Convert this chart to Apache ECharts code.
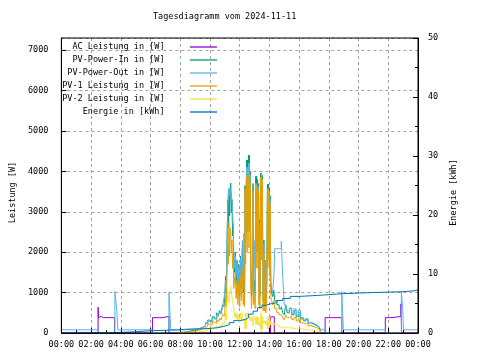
<!DOCTYPE html>
<html>
<head>
<meta charset="utf-8">
<script src="https://cdn.jsdelivr.net/npm/echarts@6/dist/echarts.min.js"></script>
<style>html,body{margin:0;padding:0;background:#fff}#c{width:480px;height:360px}</style>
</head>
<body>
<div id="c"></div>
<script>
// ---- tick labels ----
const tickLabels = ['00:00','02:00','04:00','06:00','08:00','10:00','12:00','14:00','16:00','18:00','20:00','22:00','00:00'];
const seriesNames = ['AC Leistung in [W]','PV-Power-In in [W]','PV-Power-Out in [W]','PV-1 Leistung in [W]','PV-2 Leistung in [W]','Energie in [kWh]'];

// ---- AC Leistung (hours, W) ----
const acTimes  = [0, 2.47, 2.50, 2.62, 2.68, 2.82, 2.88, 3.58, 6.13, 6.60, 6.68, 6.78, 7.24, 14.07, 14.33, 17.75, 18.30, 18.40, 18.87, 21.80, 22.25, 22.85, 22.90, 24];
const acValues = [0, 640, 380, 410, 380, 410, 380, 0, 380, 410, 380, 410, 0, 400, 0, 380, 410, 380, 0, 380, 410, 720, 0, 0];

// ---- daytime time base (hours) ----
const dayTimes = [7.90,8.10,8.40,8.70,9.00,9.25,9.50,9.70,9.85,10.00,
  10.15,10.30,10.45,10.55,10.65,10.75,10.85,10.95,11.00,11.05,
  11.10,11.15,11.20,11.24,11.28,11.32,11.36,11.40,11.44,11.48,
  11.52,11.56,11.60,11.65,11.70,11.76,11.82,11.88,11.94,12.00,
  12.06,12.12,12.18,12.24,12.28,12.33,12.36,12.40,12.44,12.47,
  12.50,12.53,12.56,12.59,12.62,12.65,12.68,12.71,12.75,12.80,
  12.86,12.90,12.93,12.98,13.05,13.08,13.11,13.14,13.17,13.20,
  13.23,13.26,13.29,13.33,13.36,13.40,13.43,13.46,13.49,13.52,
  13.55,13.58,13.63,13.66,13.72,13.76,13.82,13.87,13.90,13.93,
  13.96,13.99,14.02,14.05,14.09,14.15,14.22,14.30,14.36,14.50,
  14.65,14.80,14.90,15.00,15.10,15.20,15.35,15.50,15.65,15.80,
  15.95,16.10,16.30,16.45,16.60,16.80,17.00,17.20,17.35,17.47];
const pvIn = [15,30,50,70,100,140,180,250,320,280,
  400,350,500,420,560,480,700,650,900,1400,
  1000,2300,3300,2600,3500,2900,3600,3710,3000,3300,
  2400,2700,1700,1500,2000,1200,1800,1000,1700,900,
  1900,1100,2100,1000,1300,900,3650,2200,3650,4280,
  2500,4280,3000,4400,2600,4400,3000,4000,1500,900,
  1500,3700,1000,1300,900,3880,2000,3880,2500,3800,
  2000,3700,1000,2800,900,3960,2500,3960,2200,3900,
  2000,800,2300,800,1800,700,1200,3680,2000,3680,
  2200,3600,1800,3400,1200,1000,900,1050,800,700,
  600,650,500,450,700,500,600,450,550,400,
  500,350,300,350,250,220,180,140,100,0];
const pvOutDay = [80,85,95,100,110,130,170,230,300,270,
  380,340,470,410,540,470,650,900,850,1300,
  1100,2200,3160,3570,3400,3570,3500,3550,3570,3300,
  3000,2700,2000,1600,1900,1400,1750,1100,1650,1000,
  1850,1200,2290,1100,2465,1000,3500,2300,3500,4100,
  2600,4100,3000,4200,2700,4200,3000,3900,1600,1000,
  1600,3500,1100,2290,1000,3700,2100,3700,2600,3650,
  2100,3600,1100,2700,1000,3850,2600,3850,2300,3800,
  2100,900,2200,900,1800,800,1300,3550,2100,3550,
  2300,3500,1900,3300,1300,1100,1000,1400,2085,2085,
  2085,2270,1380,700,650,550,620,480,600,420,
  560,380,320,330,260,240,200,160,120,80];
const pv1 = [10,20,35,50,70,100,130,170,220,190,
  270,240,330,280,370,320,460,420,560,900,
  650,1500,2200,1700,2745,1900,2600,2500,2000,2300,
  1600,1900,1100,1100,1500,850,1300,700,1250,650,
  1400,800,1600,700,950,650,3550,1700,3550,3860,
  2000,3860,2500,3940,2100,3940,2500,3700,1100,600,
  1100,3520,700,900,600,3655,1600,3655,2100,3600,
  1600,3500,700,2500,600,3860,2000,3940,1800,3800,
  1600,550,2000,550,1500,500,900,3570,1600,3570,
  1800,3450,1400,3200,900,800,700,800,600,500,
  450,480,380,330,450,380,420,330,380,300,
  350,250,220,250,180,160,130,100,70,0];
const pv2 = [5,10,15,20,30,40,50,80,100,90,
  130,110,170,140,190,160,240,230,300,450,
  330,750,1050,850,750,950,950,1150,1000,1000,
  800,800,600,400,500,350,500,300,450,250,
  500,300,500,300,350,250,100,500,100,420,
  500,420,500,460,500,460,500,300,400,300,
  400,180,300,400,300,225,400,225,400,200,
  400,200,300,300,300,100,500,20,400,100,
  400,250,300,250,300,200,300,110,400,110,
  400,150,400,200,300,250,200,250,200,200,
  150,170,120,120,150,120,130,110,120,100,
  110,90,80,90,70,60,50,40,30,0];

// ---- PV-Power-Out at night (hours, W) ----
const outMorningTimes  = [0, 2.47, 3.60, 3.73, 3.80, 6.10, 7.24, 7.36];
const outMorningValues = [80, 0, 1030, 560, 80, 0, 1010, 80];
const outEveningTimes  = [17.73, 18.87, 18.98, 21.80, 22.88, 22.98, 23.02, 24];
const outEveningValues = [0, 1030, 80, 0, 1010, 560, 80, 80];

// ---- Energie (hours, kWh) ----
const energyTimes  = [0, 0.67, 3.60, 4.90, 5.90, 7.90, 8.30, 9.50, 10.00, 10.50, 10.90, 11.30, 11.60, 12.00, 12.40, 12.60, 12.90, 13.20, 13.50, 13.80, 14.10, 14.50, 14.90, 15.40, 16.00, 17.25, 18.90, 20.60, 23.00, 23.80, 24];
const energyValues = [0, 0.08, 0.20, 0.37, 0.54, 0.62, 0.70, 0.78, 0.90, 1.10, 1.40, 1.75, 2.10, 2.30, 2.60, 3.20, 3.70, 4.30, 4.70, 4.95, 5.15, 5.50, 5.85, 6.20, 6.37, 6.66, 6.83, 7.00, 7.17, 7.33, 7.33];

function pairs(ts, vs) { return ts.map((t, i) => [t, vs[i]]); }

const FONT = 'DejaVu Sans Mono';
const fs = 8.5;
const colors = ['#9400d3', '#009e73', '#56b4e9', '#e69f00', '#f0e442', '#0072b2'];

const outData = pairs(outMorningTimes, outMorningValues)
  .concat(pairs(dayTimes, pvOutDay))
  .concat(pairs(outEveningTimes, outEveningValues));

const chart = echarts.init(document.getElementById('c'), null, {renderer: 'canvas'});
function mk(i, data, axis) {
  return {
    name: seriesNames[i], type: 'line', step: 'end', yAxisIndex: axis || 0,
    data: data, symbol: 'none', animation: false,
    lineStyle: {width: 1, color: colors[i]}, itemStyle: {color: colors[i]}
  };
}
chart.setOption({
  animation: false,
  backgroundColor: '#fff',
  title: {
    text: 'Tagesdiagramm vom 2024-11-11', left: 153, top: 12, padding: 0,
    textStyle: {fontFamily: FONT, fontSize: fs, fontWeight: 'normal', color: '#000'}
  },
  grid: {left: 58, top: 38, width: 360, height: 295, show: true, z: 10,
         borderColor: '#000', borderWidth: 1, backgroundColor: 'transparent'},
  legend: {
    orient: 'vertical', align: 'right', right: 263, top: 42.5, padding: 0,
    itemWidth: 27, itemHeight: 9, itemGap: 4,
    icon: 'path://M0,0H27V1.3H0Z',
    data: seriesNames,
    formatter: function (n) { return n + '    '; },
    textStyle: {fontFamily: FONT, fontSize: fs, color: '#000'}
  },
  xAxis: {
    type: 'value', min: 0, max: 24, interval: 2,
    axisLine: {show: true, lineStyle: {color: '#000'}},
    axisTick: {inside: true, length: 5, lineStyle: {color: '#000'}},
    minorTick: {show: true, splitNumber: 2, length: 3, lineStyle: {color: '#000'}},
    axisLabel: {margin: 7, fontFamily: FONT, fontSize: fs, color: '#000',
                formatter: function (v) { return tickLabels[Math.round(v / 2)]; }},
    splitLine: {show: true, lineStyle: {color: '#a0a0a0', type: [3, 3], width: 1}}
  },
  yAxis: [{
    type: 'value', min: 0, max: 7300, interval: 1000, position: 'left',
    name: 'Leistung [W]', nameLocation: 'middle', nameGap: 44,
    nameTextStyle: {fontFamily: FONT, fontSize: fs, color: '#000', padding: [0, 14, 0, 0]},
    axisLine: {show: true, lineStyle: {color: '#000'}},
    axisTick: {inside: true, length: 5, lineStyle: {color: '#000'}},
    axisLabel: {margin: 13, fontFamily: FONT, fontSize: fs, color: '#000', showMaxLabel: false,
                formatter: function (v) { return String(v); }},
    splitLine: {show: true, lineStyle: {color: '#a0a0a0', type: [3, 3], width: 1}}
  }, {
    type: 'value', min: 0, max: 50, interval: 10, position: 'right',
    name: 'Energie [kWh]', nameLocation: 'middle', nameGap: 30,
    nameTextStyle: {fontFamily: FONT, fontSize: fs, color: '#000', padding: [0, 14, 0, 0]},
    axisLine: {show: true, lineStyle: {color: '#000'}},
    axisTick: {inside: true, length: 5, lineStyle: {color: '#000'}},
    minorTick: {show: true, splitNumber: 2, length: 3, lineStyle: {color: '#000'}},
    axisLabel: {margin: 10, fontFamily: FONT, fontSize: fs, color: '#000',
                formatter: function (v) { return String(v); }},
    splitLine: {show: false}
  }],
  series: [
    mk(0, pairs(acTimes, acValues)),
    mk(1, pairs(dayTimes, pvIn)),
    mk(2, outData),
    mk(3, pairs(dayTimes, pv1)),
    mk(4, pairs(dayTimes, pv2)),
    mk(5, pairs(energyTimes, energyValues), 1)
  ]
});
</script>
</body>
</html>
